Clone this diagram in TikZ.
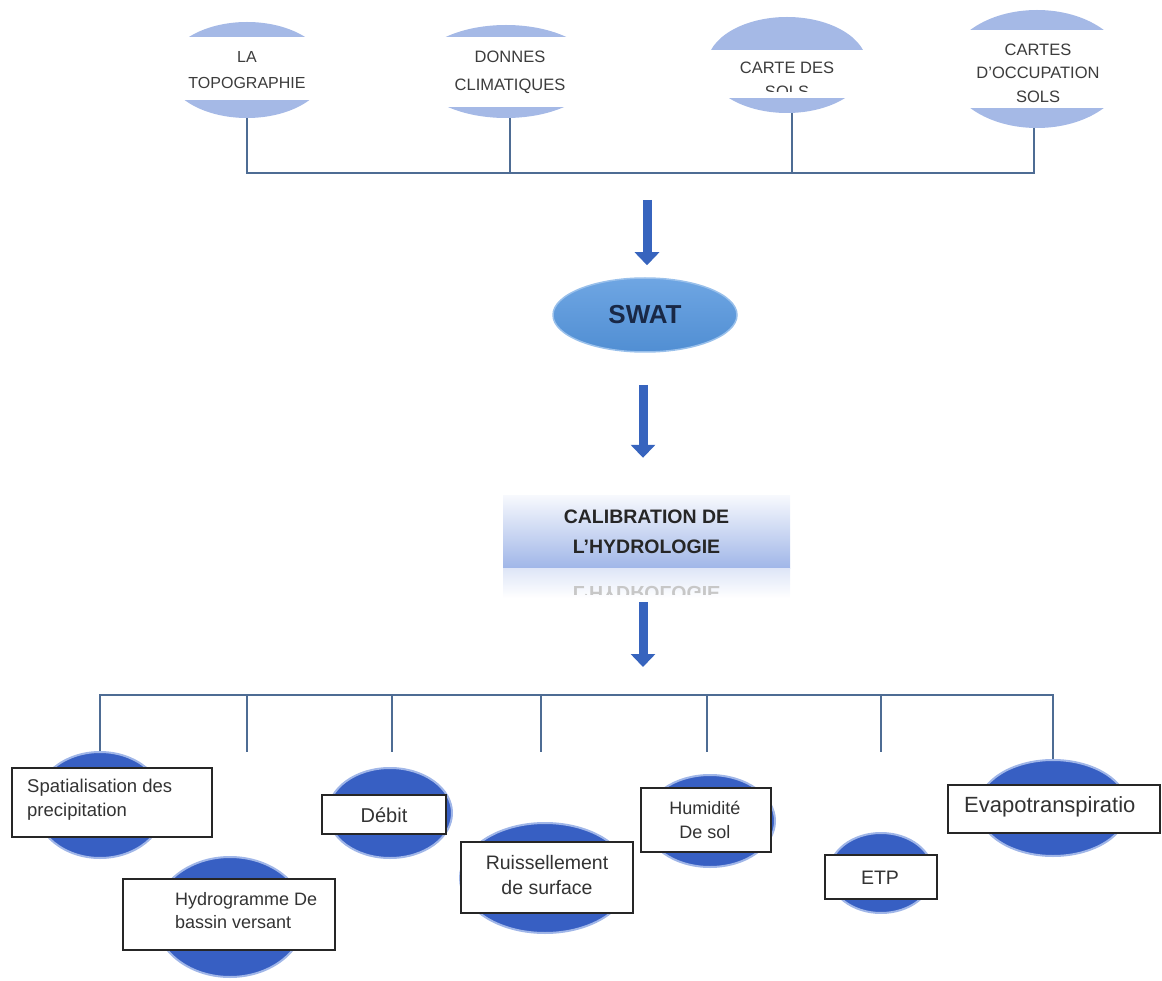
\documentclass[tikz,border=0pt]{standalone}
\usepackage{fontspec}
\setmainfont{Liberation Sans}
\usetikzlibrary{shapes.geometric,arrows.meta}
\definecolor{busline}{RGB}{78,108,148}
\definecolor{topfill}{RGB}{165,185,230}
\definecolor{botfill}{RGB}{55,95,195}
\definecolor{botglow}{RGB}{160,182,232}
\definecolor{swatfill}{RGB}{85,150,222}
\definecolor{swattext}{RGB}{25,40,70}
\definecolor{arrowblue}{RGB}{55,100,190}
\definecolor{labeltext}{RGB}{60,60,60}
\definecolor{calibblue}{RGB}{160,182,232}
\tikzset{
  bus/.style={draw=busline, line width=2.6pt},
  topell/.style={ellipse, fill=topfill, draw=none, inner sep=0pt},
  band/.style={fill=white, draw=none, inner sep=0pt},
  toplabel/.style={align=center, text=labeltext, inner sep=0pt, font=\fontsize{16.5}{24.5}\selectfont},
  botell/.style={ellipse, fill=botfill, draw=botglow, line width=2pt, inner sep=0pt},
  labelbox/.style={rectangle, fill=white, draw=black!85, line width=1.8pt, inner sep=0pt},
  botlabel/.style={align=center, text=black!80, inner sep=0pt},
  bigarrow/.style={draw=arrowblue, line width=9pt, -{Triangle[width=24pt,length=13pt]}},
}
\begin{document}
\begin{tikzpicture}[x=1pt,y=-1pt]
\useasboundingbox (0,0) rectangle (1162,981);

% ---------- top inputs ----------
% LA TOPOGRAPHIE
\node[topell, minimum width=160pt, minimum height=96pt] (t1) at (247,70) {};
\node[band, minimum width=176pt, minimum height=63pt] (t1b) at (247,68.5) {};
\node[toplabel, font=\fontsize{16}{26}\selectfont] (t1t) at (247,70) {LA\\TOPOGRAPHIE};
% DONNES CLIMATIQUES
\node[topell, minimum width=180pt, minimum height=93pt] (t2) at (506,71.5) {};
\node[band, minimum width=196pt, minimum height=70pt] (t2b) at (506,72) {};
\node[toplabel, font=\fontsize{16.5}{28}\selectfont] (t2t) at (510,72) {DONNES\\CLIMATIQUES};
% CARTE DES SOLS
\node[topell, minimum width=160pt, minimum height=96pt] (t3) at (787,65) {};
\node[band, minimum width=176pt, minimum height=48pt] (t3b) at (787,74) {};
\begin{scope}
  \clip (690,40) rectangle (890,92);
  \node[toplabel] (t3t) at (787,80) {CARTE DES\\SOLS};
\end{scope}
% CARTES D'OCCUPATION SOLS
\node[topell, minimum width=178pt, minimum height=118pt] (t4) at (1037,69) {};
\node[band, minimum width=194pt, minimum height=78pt] (t4b) at (1037,69) {};
\begin{scope}
  \clip (930,25) rectangle (1145,103);
  \node[toplabel, font=\fontsize{16.5}{23.5}\selectfont] (t4t) at (1038,73) {CARTES\\D'OCCUPATION\\SOLS};
\end{scope}

% top bus
\coordinate (tbusL) at (247,173);
\coordinate (tbusR) at (1034,173);
\draw[bus] (t1.south) -- (tbusL) -- (tbusR) -- (tbusR |- t4.south);
\draw[bus] ([xshift=4pt]t2.south) -- ([xshift=4pt]t2.south |- tbusL);
\draw[bus] ([xshift=5pt]t3.south) -- ([xshift=5pt]t3.south |- tbusL);

% ---------- SWAT ----------
\node[ellipse, minimum width=184pt, minimum height=74pt, inner sep=0pt, draw=swatfill!60, line width=1.5pt,
      top color=swatfill!85!white, bottom color=swatfill!95!black, text=swattext,
      font=\fontsize{26}{30}\selectfont\bfseries] (swat) at (645,315) {SWAT};
\coordinate (a1s) at (647,200);
\draw[bigarrow] (a1s) -- ([xshift=2pt,yshift=12pt]swat.north);

% ---------- CALIBRATION ----------
\node[rectangle, minimum width=287pt, minimum height=73pt, inner sep=0pt,
      top color=white!92!calibblue, bottom color=calibblue] (calib) at (646.5,531.5) {};
\node[rectangle, minimum width=287pt, minimum height=30pt, inner sep=0pt,
      top color=calibblue!35!white, bottom color=white] (refl) at (646.5,583) {};
\begin{scope}
  \clip (503,568) rectangle (790,594);
  \node[yscale=-1, text=black!22, font=\fontsize{19.5}{30}\selectfont\bfseries] (reflt) at (646.5,593) {L'HYDROLOGIE};
\end{scope}
\node[align=center, text=black!85, font=\fontsize{19.5}{30}\selectfont\bfseries, inner sep=0pt] (calibt) at (646.5,532) {CALIBRATION DE\\L'HYDROLOGIE};
\coordinate (a2s) at (643,385);
\draw[bigarrow] (a2s) -- ([xshift=-3.5pt,yshift=37pt]calib.north);
\coordinate (a3s) at (643,602);
\coordinate (a3e) at (643,667);
\draw[bigarrow] (a3s) -- (a3e);

% ---------- bottom outputs ----------
\node[botell, minimum width=130pt, minimum height=106pt] (b1) at (100,805) {};
\node[labelbox, minimum width=200pt, minimum height=69pt] (b1r) at (112,802.5) {};
\node[botlabel, align=left, anchor=west, font=\fontsize{18.5}{24}\selectfont] (b1t) at (27,800) {Spatialisation des\\precipitation};

\node[botell, minimum width=150pt, minimum height=120pt] (b2) at (230,917) {};
\node[labelbox, minimum width=212pt, minimum height=71pt] (b2r) at (229,914.5) {};
\node[botlabel, align=left, anchor=west, font=\fontsize{18}{23}\selectfont] (b2t) at (175,911) {Hydrogramme De\\bassin versant};

\node[botell, minimum width=124pt, minimum height=90pt] (b3) at (390,813) {};
\node[labelbox, minimum width=124pt, minimum height=39pt] (b3r) at (384,814.5) {};
\node[botlabel, font=\fontsize{20}{24}\selectfont] (b3t) at (384,815) {Débit};

\node[botell, minimum width=170pt, minimum height=110pt] (b4) at (545,878) {};
\node[labelbox, minimum width=172pt, minimum height=71pt] (b4r) at (547,877.5) {};
\node[botlabel, font=\fontsize{19.5}{25}\selectfont] (b4t) at (547,875) {Ruissellement\\de surface};

\node[botell, minimum width=130pt, minimum height=92pt] (b5) at (710,821) {};
\node[labelbox, minimum width=130pt, minimum height=64pt] (b5r) at (706,820) {};
\node[botlabel, font=\fontsize{18}{24}\selectfont] (b5t) at (705,820) {Humidité\\De sol};

\node[botell, minimum width=104pt, minimum height=80pt] (b6) at (881,873) {};
\node[labelbox, minimum width=112pt, minimum height=44pt] (b6r) at (881,877) {};
\node[botlabel, font=\fontsize{19.5}{24}\selectfont] (b6t) at (880,878) {ETP};

\node[botell, minimum width=150pt, minimum height=96pt] (b7) at (1053,808) {};
\node[labelbox, minimum width=212pt, minimum height=48pt] (b7r) at (1054,809) {};
\node[botlabel, anchor=west, font=\fontsize{22}{26}\selectfont] (b7t) at (964,807) {Evapotranspiratio};

% bottom bus
\coordinate (bbusL) at (100,695);
\coordinate (bbusR) at (1053,695);
\coordinate (d2) at (247,752);
\coordinate (d3) at (392,752);
\coordinate (d4) at (541,752);
\coordinate (d5) at (707,752);
\coordinate (d6) at (881,752);
\draw[bus] (b1.north) -- (bbusL) -- (bbusR) -- (b7.north);
\draw[bus] (d2 |- bbusL) -- (d2);
\draw[bus] (d3 |- bbusL) -- (d3);
\draw[bus] (d4 |- bbusL) -- (d4);
\draw[bus] (d5 |- bbusL) -- (d5);
\draw[bus] (d6 |- bbusL) -- (d6);
\end{tikzpicture}
\end{document}
